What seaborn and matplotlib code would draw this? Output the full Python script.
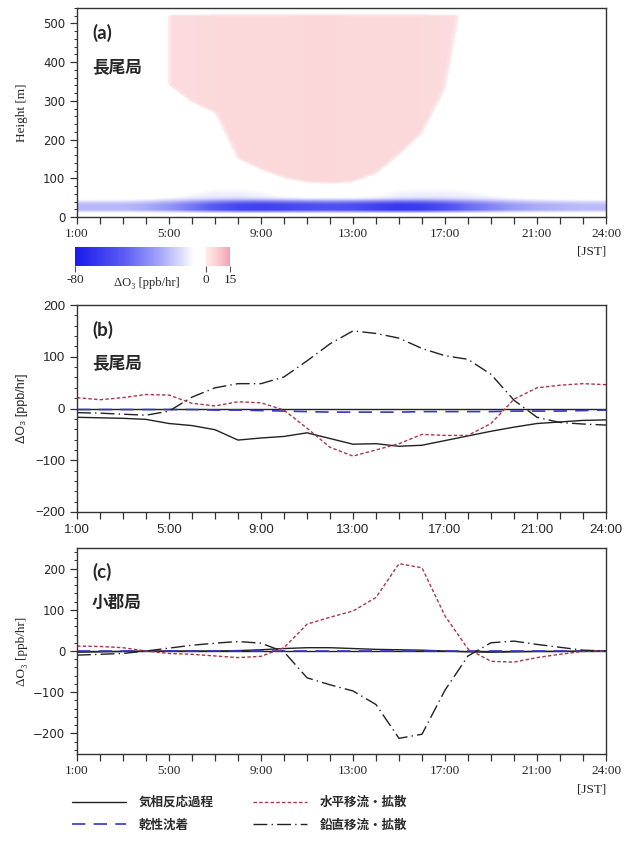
import numpy as np
import pandas as pd
import matplotlib
matplotlib.use("Agg")
import matplotlib.pyplot as plt
import seaborn as sns
from matplotlib.colors import LinearSegmentedColormap, Normalize
from matplotlib.ticker import MultipleLocator, FixedLocator
from matplotlib.lines import Line2D

# ---------------- data ----------------
hours = list(range(1, 25))
tick_hours = [1, 5, 9, 13, 17, 21, 24]
tick_labels = ["1:00", "5:00", "9:00", "13:00", "17:00", "21:00", "24:00"]

series_names = ["気相反応過程", "乾性沈着", "水平移流・拡散", "鉛直移流・拡散"]

# panel (b) 長尾局  [ppb/hr]
b_gas = [-17, -18, -19, -21, -29, -33, -41, -61, -57, -54, -47, -58,
         -69, -68, -73, -71, -62, -53, -44, -36, -29, -26, -23, -22]
b_dry = [-2, -2, -2, -2, -2, -2, -3, -3, -4, -5, -6, -7,
         -7, -7, -7, -6, -6, -6, -6, -5, -5, -5, -4, -3]
b_hadv = [21, 17, 21, 27, 26, 10, 5, 13, 11, -3, -38, -75,
          -92, -80, -68, -50, -52, -52, -29, 18, 40, 45, 48, 46]
b_vadv = [-8, -9, -11, -13, -5, 22, 40, 48, 48, 61, 92, 125,
          150, 145, 136, 116, 102, 95, 66, 16, -17, -27, -30, -32]

# panel (c) 小郡局  [ppb/hr]
c_gas = [-3, -2, -1, 0, 0, 0, 0, 1, 3, 6, 8, 8,
         6, 4, 3, 2, 0, -2, -3, -2, -1, -1, 0, 0]
c_dry = [-1, -1, -1, -1, -1, -1, -1, -1, -1, -1, -1, -1,
         -1, -1, -1, -1, -1, -1, -1, -1, -1, -1, -1, -1]
c_hadv = [12, 11, 8, 0, -6, -8, -12, -16, -13, 8, 65, 82,
          97, 130, 212, 202, 85, 5, -25, -27, -16, -8, -1, 0]
c_vadv = [-10, -8, -6, 0, 7, 14, 19, 23, 19, -2, -65, -82,
          -97, -130, -212, -202, -95, -12, 20, 24, 16, 9, 2, 0]

# panel (a) 長尾局 vertical structure of ΔO3 [ppb/hr], read per hour
a_band_rate = [-24, -24, -24, -27, -33, -42, -52, -60, -62, -60, -57, -55,
               -57, -62, -66, -64, -56, -46, -38, -31, -27, -25, -23, -23]
a_upper_rate = [-3, -3, -3, -5, -8, -11, -13, -13, -12, -9, -7, -7,
                -7, -9, -12, -13, -13, -12, -10, -7, -5, -4, -3, -3]
a_upper_top = [50, 50, 50, 55, 65, 85, 105, 105, 95, 75, 62, 60,
               70, 90, 105, 105, 105, 100, 85, 65, 55, 50, 50, 50]
a_pink_bottom = [np.nan, np.nan, np.nan, np.nan, 340, 295, 268, 150, 122, 100, 90, 86,
                 90, 112, 160, 215, 330, 650, np.nan, np.nan, np.nan, np.nan, np.nan, np.nan]
a_pink_rate = [0, 0, 0, 0, 4.5, 4.5, 5, 5, 5, 5, 5.5, 5.5,
               5, 5, 5, 5, 4.5, 4.5, 0, 0, 0, 0, 0, 0]
a_pink_top = 520
a_band_bottom = 13
a_band_core_top = 32
a_band_top = 48
cbar_ticks = [-80, 0, 15]

# ---------------- style ----------------
sns.set_theme(style="ticks")
plt.rcParams["font.family"] = ["DejaVu Sans", "Noto Sans CJK JP"]
plt.rcParams["axes.edgecolor"] = "#333333"
plt.rcParams["axes.linewidth"] = 1.0

W, H = 643, 841
fig = plt.figure(figsize=(W / 100, H / 100), dpi=100)


def fx(px):
    return px / W


def fy(py):
    return 1 - py / H


LEFT, RIGHT = 77, 606
ax_a = fig.add_axes([fx(LEFT), fy(217), fx(RIGHT - LEFT), (217 - 8) / H])
ax_b = fig.add_axes([fx(LEFT), fy(512), fx(RIGHT - LEFT), (512 - 305) / H])
ax_c = fig.add_axes([fx(LEFT), fy(754), fx(RIGHT - LEFT), (754 - 548) / H])
cax = fig.add_axes([fx(75), fy(266), fx(230 - 75), 19 / H])

serif = ["Liberation Serif", "DejaVu Serif"]
sans_b = ["Liberation Sans", "DejaVu Sans"]
cjk = ["Noto Sans CJK JP", "DejaVu Sans"]

# ---------------- panel (a) ----------------
cmap = LinearSegmentedColormap.from_list(
    "o3",
    [
        (0.0, (0.10, 0.10, 0.93)),
        ((-50 + 80) / 95, (0.36, 0.36, 0.95)),
        ((-30 + 80) / 95, (0.62, 0.62, 0.97)),
        ((-15 + 80) / 95, (0.86, 0.86, 0.99)),
        ((-7 + 80) / 95, (1.0, 1.0, 1.0)),
        ((0 + 80) / 95, (1.0, 1.0, 1.0)),
        ((0.5 + 80) / 95, (0.995, 0.92, 0.92)),
        ((6 + 80) / 95, (0.985, 0.84, 0.85)),
        (1.0, (0.95, 0.64, 0.70)),
    ],
)
norm = Normalize(vmin=-80, vmax=15)

# render grid (fine time axis for drawing only)
t = np.linspace(1, 24, 461)
z = np.arange(0, 544, 2.0)
band_t = np.interp(t, hours, a_band_rate)
upr_t = np.interp(t, hours, a_upper_rate)
uptop_t = np.interp(t, hours, a_upper_top)
hrs = np.array(hours, float)
pb = np.array(a_pink_bottom, float)
valid = ~np.isnan(pb)
pink_on = (t >= hrs[valid].min()) & (t <= hrs[valid].max())
pinkb_t = np.interp(t, hrs[valid], pb[valid])
pinkr_t = np.interp(t, hrs[valid], np.array(a_pink_rate, float)[valid])

field = np.full((len(z), len(t)), -3.0)
for j in range(len(t)):
    col = field[:, j]
    core = (z >= a_band_bottom) & (z <= a_band_core_top)
    col[core] = band_t[j]
    ramp = (z > a_band_core_top) & (z <= a_band_top)
    f = (z[ramp] - a_band_core_top) / (a_band_top - a_band_core_top)
    col[ramp] = band_t[j] * (1 - f) + upr_t[j] * f
    up = (z > a_band_top) & (z <= uptop_t[j])
    if uptop_t[j] > a_band_top:
        col[up] = upr_t[j] * (1 - (z[up] - a_band_top) / (uptop_t[j] - a_band_top))
    if pink_on[j]:
        pk = (z >= pinkb_t[j]) & (z <= a_pink_top)
        col[pk] = pinkr_t[j]


# soften edges a little (display only)
def blur(a, n, axis):
    k = np.ones(n) / n
    return np.apply_along_axis(
        lambda v: np.convolve(np.pad(v, n // 2, mode="edge"), k, mode="valid"), axis, a)


field = blur(field, 5, 0)
field = blur(field, 7, 1)

mesh = ax_a.imshow(field, origin="lower", extent=[1, 24, 0, z[-1]], aspect="auto",
                   cmap=cmap, norm=norm, interpolation="bilinear", rasterized=True)
ax_a.set_ylim(0, 540)
ax_a.yaxis.set_major_locator(MultipleLocator(100))
ax_a.yaxis.set_minor_locator(MultipleLocator(20))
ax_a.set_ylabel("Height [m]", family=serif, fontsize=9.5)

cb = fig.colorbar(mesh, cax=cax, orientation="horizontal", ticks=cbar_ticks)
cb.outline.set_visible(False)
cax.tick_params(axis="x", length=4, width=0.8, color="#555555", pad=2)
cax.set_xticklabels([str(v) for v in cbar_ticks], family=serif, fontsize=9.5)
fig.text(fx(147), fy(283), "ΔO₃ [ppb/hr]", family=serif, fontsize=9,
         ha="center", va="center")

# ---------------- panel (b), (c) lines ----------------
styles = [
    dict(color="#222222", linestyle="-", linewidth=1.0),
    dict(color="#3535c8", linestyle=(0, (8, 5)), linewidth=1.2),
    dict(color="#a8384c", linestyle=(0, (2.5, 1.6)), linewidth=1.0),
    dict(color="#222222", linestyle=(0, (10, 3, 1, 3)), linewidth=1.0),
]

for ax, data in [(ax_b, [b_gas, b_dry, b_hadv, b_vadv]),
                 (ax_c, [c_gas, c_dry, c_hadv, c_vadv])]:
    ax.axhline(0, color="#222222", linewidth=1.0, zorder=1)
    for name, vals, st in zip(series_names, data, styles):
        df = pd.DataFrame({"hour": hours, "val": vals})
        sns.lineplot(data=df, x="hour", y="val", ax=ax, label=name, legend=False,
                     zorder=2, **st)
    ax.yaxis.set_major_locator(MultipleLocator(100))
    ax.yaxis.set_minor_locator(MultipleLocator(20))

ax_b.set_ylim(-200, 200)
ax_c.set_ylim(-250, 250)
ax_b.set_ylabel("ΔO₃ [ppb/hr]", family=sans_b, fontsize=9)
ax_c.set_ylabel("ΔO₃ [ppb/hr]", family=serif, fontsize=9.5)

# ---------------- common axes formatting ----------------
for ax in (ax_a, ax_b, ax_c):
    ax.set_xlim(1, 24)
    ax.xaxis.set_major_locator(FixedLocator(tick_hours))
    ax.xaxis.set_minor_locator(MultipleLocator(1))
    ax.set_xlabel("")
    for s in ax.spines.values():
        s.set_visible(True)
        s.set_color("#333333")
    ax.tick_params(axis="both", which="major", direction="out", length=5, width=0.9,
                   color="#333333", top=False, right=False)
    ax.tick_params(axis="x", which="minor", direction="out", length=5, width=0.9,
                   color="#333333", top=False)
    ax.tick_params(axis="y", which="minor", direction="out", length=2.5, width=0.7,
                   color="#333333", right=False)
    ax.yaxis.set_label_coords(-0.093, 0.5)

for ax in (ax_a, ax_c):
    ax.set_xticklabels(tick_labels, family=serif, fontsize=9.5)
    ax.tick_params(axis="x", pad=3)
    for lbl in ax.get_yticklabels():
        lbl.set_family(["DejaVu Sans"])
        lbl.set_fontsize(8.5)
ax_b.set_xticklabels(tick_labels, family=sans_b, fontsize=9.5)
for lbl in ax_b.get_yticklabels():
    lbl.set_family(sans_b)
    lbl.set_fontsize(9.5)

# ---------------- annotations ----------------
for letter, station, y1, y2 in [("(a)", "長尾局", 33, 67),
                                ("(b)", "長尾局", 330, 363),
                                ("(c)", "小郡局", 572, 603)]:
    fig.text(fx(92), fy(y1), letter, family=["Lato", "DejaVu Sans"], fontweight="bold",
             fontsize=13.5, ha="left", va="center")
    fig.text(fx(92), fy(y2), station, family=cjk, fontweight="bold",
             fontsize=12, ha="left", va="center")

fig.text(fx(606), fy(252), "[JST]", family=serif, fontsize=9.5, ha="right", va="center")
fig.text(fx(606), fy(790), "[JST]", family=serif, fontsize=9.5, ha="right", va="center")

# ---------------- legend ----------------
handles = [Line2D([], [], **st) for st in styles]
leg = fig.legend(handles, series_names, ncol=2, loc="upper left",
                 bbox_to_anchor=(fx(72), fy(796)), frameon=False,
                 handlelength=4.3, handletextpad=1.0, columnspacing=3.2,
                 labelspacing=0.75, borderpad=0, borderaxespad=0,
                 prop={"family": cjk, "weight": "bold", "size": 9})
for txt in leg.get_texts():
    txt.set_color("#2a2a2a")

fig.savefig("out.png", dpi=100)
